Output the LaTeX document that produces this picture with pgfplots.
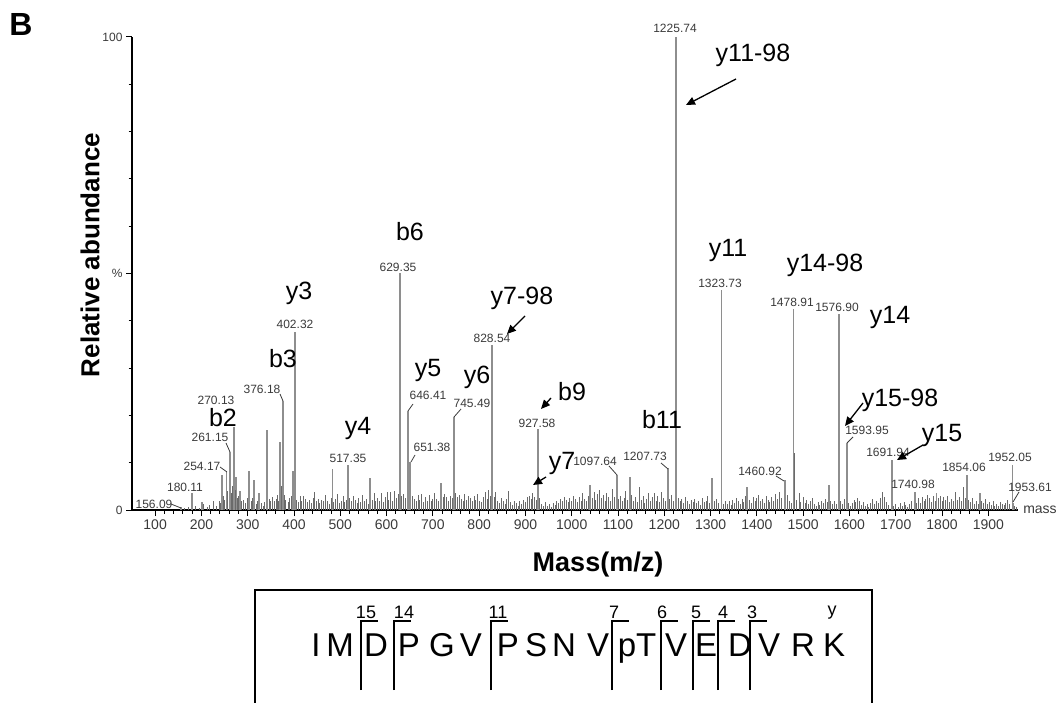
\documentclass[border=0pt]{standalone}
\usepackage{fontspec}
\setmainfont{Liberation Sans}
\usepackage{pgfplots}
\pgfplotsset{compat=1.18}
\usetikzlibrary{arrows.meta}
\definecolor{peak}{HTML}{8E8E8E}
\definecolor{noise}{HTML}{6A6A6A}
\definecolor{lab}{HTML}{3A3A3A}
\newcommand\ionf{\fontsize{25}{27}\selectfont}
\newcommand\numf{\fontsize{12}{13}\selectfont}
\begin{document}
\begin{tikzpicture}[x=1pt,y=1pt]
\useasboundingbox (0,0) rectangle (1058,702);
\begin{axis}[
  at={(132pt,192pt)}, anchor=south west,
  scale only axis, width=886.4pt, height=473pt,
  xmin=50, xmax=1965, ymin=0, ymax=100,
  axis x line=bottom, axis y line=left,
  axis line style={-, line width=2pt, black},
  xtick={100,200,...,1900}, minor x tick num=4,
  ytick={0,50,100}, yticklabels={0,\%,100}, minor y tick num=4,
  xtick align=outside, ytick align=outside,
  major tick length=6pt, minor tick length=3.5pt,
  every tick/.style={black, line width=1pt},
  /pgf/number format/assume math mode=true,
  /pgf/number format/1000 sep={},
  xticklabel style={font=\fontsize{14}{15}\selectfont, text=lab},
  yticklabel style={font=\fontsize{12}{13}\selectfont, text=lab},
  clip=false,
]
\addplot[ycomb, draw=peak, line width=1.8pt, mark=none] coordinates {
(156.09,0.6)(180.11,3.6)(201,1.6)(245,7.4)(254.17,8.3)(261.15,12.3)(270.13,17.5)
(275,7.0)(283,4.0)(303,8.2)(314,6.3)(325,3.6)(342,17.0)(370,14.4)(376.18,23.0)
(398,8.2)(402.32,37.6)(483,8.6)(517.35,9.5)(565,6.7)(629.35,50.0)(646.41,21.0)
(651.38,10.1)(718,5.7)(745.49,19.7)(828.54,34.9)(927.58,17.1)(1040,5.2)
(1097.64,7.4)(1126,7.0)(1207.73,8.9)(1225.74,100)(1303,6.7)(1323.73,46.5)
(1379,4.9)(1460.92,6.3)(1478.91,42.5)(1556,5.3)(1576.90,41.4)(1593.95,14.1)
(1691.94,10.6)(1740.98,3.8)(1788,3.6)(1854.06,7.4)(1882,3.5)(1952.05,9.5)(1953.61,1.5)
};
\addplot[ycomb, draw=noise, line width=0.9pt, mark=none] coordinates {
(163,0.4)(172,0.6)(188,0.8)(195,0.5)(205,1.2)(212,0.7)(218,1.0)(226,1.8)(232,0.9)(238,2.0)
(242,1.5)(248,3.0)(250,2.2)(256,4.0)(264,3.5)(267,5.0)(273,4.2)(278,2.5)(281,3.0)(287,1.8)
(291,2.2)(295,1.4)(299,2.6)(307,1.9)(311,2.5)(318,1.2)(321,2.0)(329,1.5)(333,0.9)(337,1.6)
(346,2.3)(350,1.8)(354,2.7)(357,1.9)(361,2.4)(364,3.1)(366,2.0)(373,5.0)(379,3.2)(381,2.1)
(387,1.7)(391,2.5)(395,3.0)(405,2.2)(409,1.6)(413,2.9)(417,2.0)(421,3.0)(425,2.4)(429,1.7)
(433,2.2)(437,1.4)(441,2.6)(445,3.8)(449,1.9)(452,2.4)(456,1.5)(460,2.2)(464,1.8)(468,3.2)
(472,2.0)(476,1.3)(480,2.6)(486,1.7)(490,2.3)(494,3.3)(498,1.5)(502,2.0)(506,2.9)(510,1.6)
(514,2.2)(520,2.6)(524,1.8)(528,3.0)(532,2.1)(536,1.4)(540,2.5)(544,1.7)(548,3.1)(552,1.9)
(556,2.4)(560,1.3)(569,2.2)(573,3.5)(577,1.8)(581,2.6)(585,2.0)(589,3.6)(593,1.6)(597,2.8)
(601,3.8)(605,2.2)(609,3.7)(613,1.9)(617,4.0)(621,2.6)(625,3.4)(633,2.9)(637,3.3)(641,2.5)
(656,3.0)(660,2.4)(664,1.8)(668,3.1)(672,2.2)(676,3.4)(680,1.6)(684,2.8)(688,2.0)(692,3.2)
(696,1.8)(700,2.4)(704,3.5)(708,2.3)(712,1.9)(722,2.7)(726,3.3)(730,2.8)(734,2.0)(738,3.0)
(742,2.5)(749,3.6)(753,2.7)(757,3.1)(761,2.4)(765,1.9)(769,3.4)(773,2.2)(777,3.0)(781,2.6)
(785,1.8)(789,2.9)(793,2.1)(797,3.3)(801,2.0)(805,1.6)(809,2.7)(813,3.9)(817,2.3)(821,4.2)
(825,3.0)(832,2.8)(836,3.7)(840,2.0)(844,1.5)(848,2.6)(852,1.9)(856,1.2)(860,2.3)(864,4.0)
(868,1.7)(872,1.1)(876,2.0)(880,1.4)(884,0.9)(888,1.8)(892,1.3)(896,2.2)(900,1.6)(904,2.8)
(908,3.0)(912,2.4)(916,3.5)(920,2.7)(924,2.2)(931,2.5)(935,1.3)(939,0.9)(943,1.6)(947,0.8)
(951,1.2)(956,0.7)(960,1.5)(964,1.0)(968,2.0)(972,1.4)(976,2.4)(980,1.8)(984,2.8)(988,2.1)
(992,1.6)(996,2.6)(1000,1.9)(1004,3.0)(1008,2.3)(1012,1.7)(1016,2.8)(1020,2.0)(1024,3.5)
(1028,2.4)(1032,1.8)(1036,3.0)(1044,2.5)(1048,3.8)(1052,2.2)(1056,3.3)(1060,4.2)(1064,2.6)
(1068,3.1)(1072,2.0)(1076,3.6)(1080,2.8)(1084,1.9)(1088,4.5)(1092,2.7)(1101,2.4)(1105,3.0)
(1109,1.8)(1113,2.6)(1117,4.1)(1121,2.2)(1130,3.1)(1134,2.0)(1138,2.8)(1142,1.6)(1146,4.8)
(1150,2.2)(1154,3.0)(1158,1.5)(1162,2.4)(1166,3.6)(1170,1.8)(1174,2.7)(1178,3.5)(1182,2.0)
(1186,2.9)(1190,1.7)(1194,3.8)(1198,2.5)(1202,1.9)(1212,2.4)(1216,3.1)(1220,2.0)(1230,2.6)
(1234,1.8)(1238,2.3)(1242,1.5)(1246,2.7)(1250,1.9)(1254,1.3)(1258,2.2)(1262,1.6)(1266,2.4)
(1270,1.4)(1274,1.9)(1278,1.1)(1282,2.5)(1286,1.7)(1290,2.0)(1294,2.9)(1298,1.4)(1308,1.8)
(1312,2.3)(1316,1.5)(1328,1.3)(1332,2.0)(1336,1.2)(1340,1.8)(1344,1.0)(1348,2.2)(1352,1.5)
(1356,2.6)(1360,1.9)(1364,1.3)(1368,2.4)(1372,1.7)(1376,2.9)(1384,2.1)(1388,1.4)(1392,2.7)
(1396,1.8)(1400,2.5)(1404,3.2)(1408,1.9)(1412,2.4)(1416,1.5)(1420,3.0)(1424,2.2)(1428,1.6)
(1432,2.8)(1436,2.0)(1440,3.4)(1444,2.3)(1448,3.9)(1452,2.6)(1465,3.2)(1470,2.0)(1474,1.5)
(1481,12.0)(1486,2.2)(1491,3.6)(1495,1.6)(1500,2.8)(1504,1.4)(1508,2.1)(1512,1.2)(1516,1.8)
(1520,2.5)(1524,1.3)(1528,0.9)(1532,1.7)(1536,1.1)(1540,2.0)(1544,1.4)(1548,2.3)(1552,1.6)
(1560,2.0)(1564,1.2)(1568,1.8)(1572,1.3)(1581,1.9)(1585,1.2)(1589,2.4)(1598,1.5)(1602,0.9)
(1606,1.4)(1610,2.2)(1614,1.6)(1618,2.6)(1622,1.8)(1626,1.1)(1630,1.7)(1634,0.8)(1638,1.3)
(1642,0.7)(1646,1.5)(1650,2.4)(1654,1.2)(1658,1.9)(1662,1.4)(1666,2.5)(1671,3.8)(1675,2.8)
(1680,1.6)(1684,1.0)(1696,0.8)(1700,1.2)(1705,0.7)(1710,1.4)(1714,0.9)(1718,1.6)(1722,1.1)
(1726,0.6)(1730,1.3)(1735,2.0)(1745,1.5)(1749,2.5)(1753,1.4)(1757,2.8)(1761,1.8)(1765,2.3)
(1769,3.2)(1773,2.5)(1777,1.7)(1781,2.9)(1785,2.0)(1792,2.6)(1796,3.0)(1800,1.9)(1804,2.7)
(1808,2.2)(1812,3.0)(1816,1.6)(1820,2.4)(1824,2.0)(1828,1.5)(1830,3.7)(1834,2.2)(1838,2.8)
(1842,2.0)(1846,4.8)(1850,2.6)(1858,2.2)(1862,1.6)(1866,2.5)(1870,1.3)(1874,2.0)(1878,1.2)
(1886,1.9)(1890,1.4)(1894,2.4)(1898,1.2)(1902,1.7)(1906,1.0)(1910,2.0)(1914,0.8)(1918,1.3)
(1922,0.9)(1926,1.6)(1930,1.2)(1934,1.0)(1938,1.5)(1942,2.1)(1946,1.3)(1956,0.9)(1960,0.6)
};
\end{axis}
\begin{scope}[y=-1pt, yshift=702pt]
% titles
\node[font=\fontsize{32}{34}\selectfont\bfseries] at (21,24) {B};
\node[rotate=90, font=\fontsize{26}{28}\selectfont\bfseries] at (90,255) {Relative abundance};
\node[font=\fontsize{27}{29}\selectfont\bfseries] at (598,565) {Mass(m/z)};
\node[font=\fontsize{14}{15}\selectfont, text=lab] at (1040,510) {mass};
% peak labels
\begin{scope}[every node/.style={font=\numf, text=lab, inner sep=0pt}]
\node at (675,28) {1225.74};
\node at (398,267) {629.35};
\node at (295,324) {402.32};
\node at (262,389) {376.18};
\node at (216,400) {270.13};
\node at (210,437) {261.15};
\node at (202,466) {254.17};
\node at (185,487) {180.11};
\node at (154,504) {156.09};
\node at (348,458) {517.35};
\node at (428,395) {646.41};
\node at (432,447) {651.38};
\node at (472,403) {745.49};
\node at (492,338) {828.54};
\node at (537,423) {927.58};
\node at (595,461) {1097.64};
\node at (645,456) {1207.73};
\node at (720,283) {1323.73};
\node at (760,471) {1460.92};
\node at (792,302) {1478.91};
\node at (837,307) {1576.90};
\node at (867,430) {1593.95};
\node at (888,452) {1691.94};
\node at (913,484) {1740.98};
\node at (964,467) {1854.06};
\node at (1010,457) {1952.05};
\node at (1030,487) {1953.61};
\end{scope}
% leaders
\begin{scope}[draw=lab, line width=0.8pt]
\draw (280,394) -- (283,401);
\draw (226,443) -- (230,452);
\draw (220,467) -- (227,472);
\draw (171,504) -- (181,508);
\draw (413,404) -- (408,411);
\draw (415,455) -- (411,462);
\draw (461,409) -- (454,417);
\draw (609,466) -- (617,475);
\draw (661,463) -- (668,469);
\draw (776,476) -- (784,481);
\draw (853,437) -- (847,443);
\draw (1019,492) -- (1013,502);
\end{scope}
% ion labels
\begin{scope}[every node/.style={font=\ionf}]
\node at (753,55) {y11-98};
\node at (410,232) {b6};
\node at (299,293) {y3};
\node at (283,359) {b3};
\node at (223,418) {b2};
\node at (358,428) {y4};
\node at (428,370) {y5};
\node at (477,377) {y6};
\node at (522,298) {y7-98};
\node at (572,392) {b9};
\node at (562,463) {y7};
\node at (662,420) {b11};
\node at (728,250) {y11};
\node at (825,265) {y14-98};
\node at (890,317) {y14};
\node at (900,400) {y15-98};
\node at (942,435) {y15};
\end{scope}
\begin{scope}[line width=1.3pt, -{Triangle[length=9pt,width=8pt]}]
\draw (736,79) -- (686,105);
\draw (525,316) -- (507,334);
\draw (551,398) -- (541,409);
\draw (546,477) -- (533,485);
\draw (863,403) -- (845,426);
\draw (923,445) -- (897,460);
\end{scope}
% sequence box
\draw[line width=2pt] (255,712) -- (255,590) -- (872,590) -- (872,712);
\begin{scope}[every node/.style={font=\fontsize{33}{35}\selectfont, anchor=base, inner sep=0pt}]
\node at (316,656) {I};
\node at (340,656) {M};
\node at (376,656) {D};
\node at (409,656) {P};
\node at (442,656) {G};
\node at (471,656) {V};
\node at (508,656) {P};
\node at (536,656) {S};
\node at (564,656) {N};
\node at (598,656) {V};
\node at (637,656) {pT};
\node at (676,656) {V};
\node at (706,656) {E};
\node at (740,656) {D};
\node at (769,656) {V};
\node at (803,656) {R};
\node at (834,656) {K};
\end{scope}
\begin{scope}[every node/.style={font=\fontsize{18}{20}\selectfont, anchor=base, inner sep=0pt}]
\node at (366,618) {15};
\node at (404,618) {14};
\node at (498,618) {11};
\node at (614,618) {7};
\node at (662,618) {6};
\node at (696,618) {5};
\node at (723,618) {4};
\node at (752,618) {3};
\node at (832,616) {y};
\end{scope}
\begin{scope}[line width=1.7pt]
\foreach \bx in {361,394,491,612,661,693,718,750}
  \draw (\bx,690) -- (\bx,621) -- (\bx+17,621);
\end{scope}
\end{scope}
\end{tikzpicture}
\end{document}
